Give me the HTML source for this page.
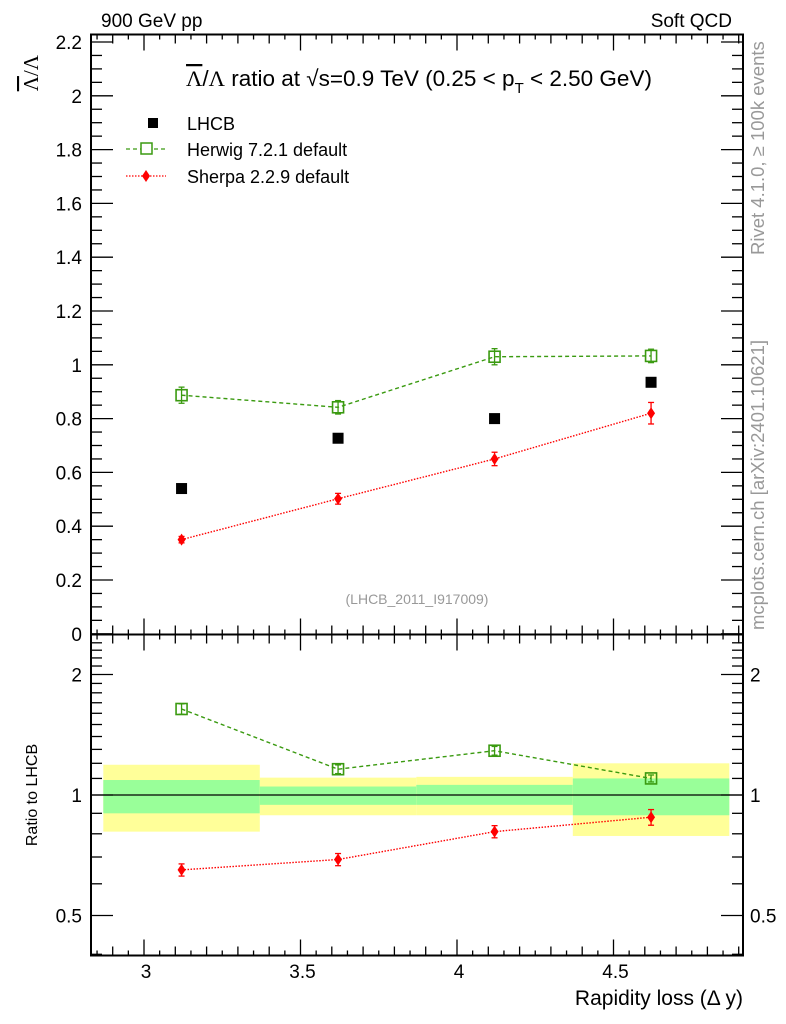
<!DOCTYPE html>
<html><head><meta charset="utf-8"><style>
body{margin:0;background:#fff;}
svg{display:block;font-family:"Liberation Sans",Arial,sans-serif;}
.ol{text-decoration:overline;}
</style></head><body>
<svg id="chart" width="786" height="1024" viewBox="0 0 786 1024" xmlns="http://www.w3.org/2000/svg">
<g id="bands"></g>
<g id="series"></g>
<g id="axes"></g>
<text x="101" y="27" font-size="19">900 GeV pp</text>
<text x="732" y="27" font-size="19" text-anchor="end">Soft QCD</text>
<text x="419" y="86" font-size="22.5" text-anchor="middle"><tspan class="ol" font-family="Liberation Serif, serif">Λ</tspan>/<tspan font-family="Liberation Serif, serif">Λ</tspan> ratio at √s=0.9 TeV (0.25 &lt; p<tspan font-size="15" dy="7">T</tspan><tspan dy="-7"> &lt; 2.50 GeV)</tspan></text>
<text transform="translate(38,55) rotate(-90)" font-size="21" text-anchor="end" font-family="Liberation Serif, serif"><tspan class="ol">Λ</tspan>/Λ</text>
<text x="417" y="604" font-size="14" fill="#999" text-anchor="middle">(LHCB_2011_I917009)</text>
<text transform="translate(37,795) rotate(-90)" font-size="16" text-anchor="middle">Ratio to LHCB</text>
<text x="743" y="1005" font-size="21" text-anchor="end">Rapidity loss (Δ y)</text>
<text transform="translate(764,255) rotate(-90)" font-size="18.5" fill="#999">Rivet 4.1.0, ≥ 100k events</text>
<text transform="translate(764,630) rotate(-90)" font-size="18.5" fill="#999">mcplots.cern.ch [arXiv:2401.10621]</text>
<g>
<rect x="148" y="118" width="10" height="10" fill="#000"/>
<text x="187" y="130" font-size="18">LHCB</text>
<line x1="126" y1="149" x2="166" y2="149" stroke="#3a9a10" stroke-width="1.3" stroke-dasharray="4,3"/>
<rect x="141" y="143" width="11" height="11" fill="#fff" stroke="#3a9a10" stroke-width="1.5"/>
<text x="187" y="156" font-size="18">Herwig 7.2.1 default</text>
<line x1="126" y1="176" x2="166" y2="176" stroke="#f00" stroke-width="1.3" stroke-dasharray="1.5,1.5"/>
<polygon points="146,170 150,176 146,182 142,176" fill="#f00"/>
<text x="187" y="183" font-size="18">Sherpa 2.2.9 default</text>
</g>
</svg>
<script>
const xCenters=[3.12,3.62,4.12,4.62];
const binEdges=[2.87,3.37,3.87,4.37,4.87];
const lhcb=[0.54,0.727,0.80,0.935];
const herwig=[0.887,0.842,1.03,1.033];
const herwigErr=[0.03,0.025,0.03,0.025];
const sherpa=[0.35,0.502,0.65,0.82];
const sherpaErr=[0.012,0.02,0.025,0.04];
const herwigRatio=[1.64,1.16,1.29,1.10];
const herwigRatioErr=[0.03,0.025,0.025,0.02];
const sherpaRatio=[0.65,0.69,0.81,0.88];
const sherpaRatioErr=[0.035,0.035,0.035,0.045];
const yellowUp=[1.19,1.105,1.11,1.20];
const yellowLo=[0.81,0.89,0.89,0.79];
const greenUp=[1.09,1.05,1.06,1.10];
const greenLo=[0.90,0.945,0.945,0.89];
const xTickLabels=["3","3.5","4","4.5"];
const yTickLabels=["0","0.2","0.4","0.6","0.8","1","1.2","1.4","1.6","1.8","2","2.2"];
const rTickLabels=["0.5","1","2"];

const NS="http://www.w3.org/2000/svg";
const L=91,R=743,T=34.5,MID=634.5,B=955.5;
function X(v){return 144+(v-3)*313;}
function Y(v){return 633.8-v*269;}
function RY(v){return 795-Math.log2(v)*120.5;}
function mk(tag,attrs,parent){const e=document.createElementNS(NS,tag);for(const k in attrs)e.setAttribute(k,attrs[k]);parent.appendChild(e);return e;}
const bands=document.getElementById('bands'),ser=document.getElementById('series'),ax=document.getElementById('axes');

for(let i=0;i<xCenters.length;i++){
 const x0=X(binEdges[i]),x1=X(binEdges[i+1]);
 const y=mk('rect',{x:x0,y:RY(yellowUp[i]),width:x1-x0,height:RY(yellowLo[i])-RY(yellowUp[i]),fill:'#ffff99'},bands);
 
 
 const g=mk('rect',{x:x0,y:RY(greenUp[i]),width:x1-x0,height:RY(greenLo[i])-RY(greenUp[i]),fill:'#99ff99'},bands);
 
 
}
mk('line',{x1:L,y1:RY(1),x2:R,y2:RY(1),stroke:'#000','stroke-width':1.2},bands);

function drawSeries(vals,errs,isMain,color,dash,name){
 const yf=isMain?Y:RY;
 const pts=vals.map((v,i)=>X(xCenters[i])+','+yf(v)).join(' ');
 const pl=mk('polyline',{points:pts,fill:'none',stroke:color,'stroke-width':1.4,'stroke-dasharray':dash},ser);
 
 
 vals.forEach((v,i)=>{
  const cx=X(xCenters[i]),cy=yf(v),eu=errs[i];
  const yA=isMain?Y(v+eu):RY(v*(1+eu)),yB=isMain?Y(v-eu):RY(v*(1-eu));
  mk('line',{x1:cx,y1:yA,x2:cx,y2:yB,stroke:color,'stroke-width':1.3},ser);
  mk('line',{x1:cx-3,y1:yA,x2:cx+3,y2:yA,stroke:color,'stroke-width':1.3},ser);
  mk('line',{x1:cx-3,y1:yB,x2:cx+3,y2:yB,stroke:color,'stroke-width':1.3},ser);
  let m;
  if(color==='#3a9a10'){m=mk('rect',{x:cx-5.5,y:cy-5.5,width:11,height:11,fill:'none',stroke:color,'stroke-width':1.6},ser);}
  else {m=mk('polygon',{points:`${cx},${cy-6} ${cx+4},${cy} ${cx},${cy+6} ${cx-4},${cy}`,fill:color},ser);}
  
  
 });
}
drawSeries(herwig,herwigErr,true,'#3a9a10','4,3','herwig');
drawSeries(sherpa,sherpaErr,true,'#f00','1.5,1.5','sherpa');
drawSeries(herwigRatio,herwigRatioErr,false,'#3a9a10','4,3','herwig-ratio');
drawSeries(sherpaRatio,sherpaRatioErr,false,'#f00','1.5,1.5','sherpa-ratio');
lhcb.forEach((v,i)=>{
 const r=mk('rect',{x:X(xCenters[i])-5.5,y:Y(v)-5.5,width:11,height:11,fill:'#000'},ser);
 
 
});

[[T,MID],[MID,B]].forEach(([a,b])=>{mk('rect',{x:L,y:a,width:R-L,height:b-a,fill:'none',stroke:'#000','stroke-width':2},ax);});
for(let k=0;k<=42;k++){
 const v=2.85+k*0.05; const x=X(v);
 if(x<L||x>R)continue;
 const major=Math.abs(v*2-Math.round(v*2))<1e-6, mid=Math.abs(v*10-Math.round(v*10))<1e-6;
 const len=major?16:(mid?9:5);
 [MID,B].forEach(yb=>{mk('line',{x1:x,y1:yb,x2:x,y2:yb-len,stroke:'#000','stroke-width':1.3},ax);});
 mk('line',{x1:x,y1:T,x2:x,y2:T+len,stroke:'#000','stroke-width':1.3},ax);
 mk('line',{x1:x,y1:MID,x2:x,y2:MID+len,stroke:'#000','stroke-width':1.3},ax);
}
xTickLabels.forEach(s=>{const t=mk('text',{x:X(+s)+2,y:978,'font-size':19,'text-anchor':'middle'},ax);t.textContent=s;});
for(let k=0;k<=44;k++){const v=k*0.05,y=Y(v);if(y<T-0.5)continue;const major=k%4===0;const len=major?22:11;
 mk('line',{x1:L,y1:y,x2:L+len,y2:y,stroke:'#000','stroke-width':1.3},ax);
 mk('line',{x1:R,y1:y,x2:R-len,y2:y,stroke:'#000','stroke-width':1.3},ax);}
yTickLabels.forEach(s=>{const t=mk('text',{x:82,y:Y(+s)+7,'font-size':19,'text-anchor':'end'},ax);t.textContent=s;});
[0.4,0.5,0.6,0.7,0.8,0.9,1,2].forEach(v=>{const y=RY(v);const major=(v===0.5||v===1||v===2);const len=major?22:11;
 mk('line',{x1:L,y1:y,x2:L+len,y2:y,stroke:'#000','stroke-width':1.3},ax);
 mk('line',{x1:R,y1:y,x2:R-len,y2:y,stroke:'#000','stroke-width':1.3},ax);});
for(let v=1.1;v<2.5;v+=0.1){if(Math.abs(v-2)<1e-6)continue;const y=RY(v);
 mk('line',{x1:L,y1:y,x2:L+11,y2:y,stroke:'#000','stroke-width':1.3},ax);
 mk('line',{x1:R,y1:y,x2:R-11,y2:y,stroke:'#000','stroke-width':1.3},ax);}
rTickLabels.forEach(s=>{
 const t=mk('text',{x:82,y:RY(+s)+7,'font-size':19,'text-anchor':'end'},ax);t.textContent=s;
 const t2=mk('text',{x:750,y:RY(+s)+7,'font-size':19},ax);t2.textContent=s;
});
</script>
</body></html>
